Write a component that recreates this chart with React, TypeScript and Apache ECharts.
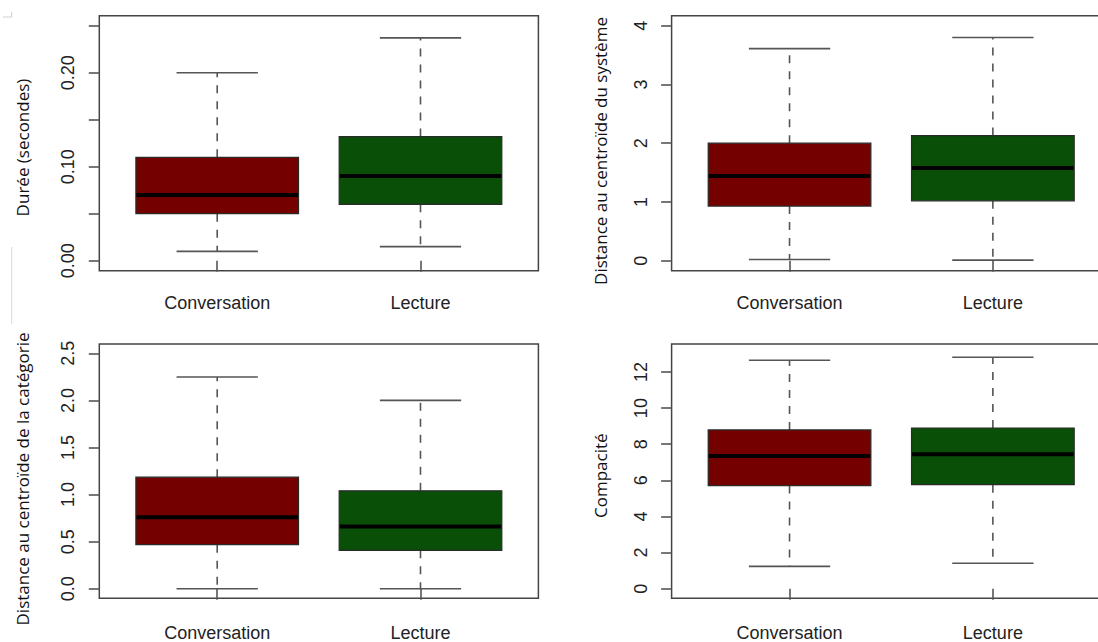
import React, { useEffect, useRef } from "react";
import * as echarts from "echarts";

// ---- data ----
const categories = ["Conversation", "Lecture"];
// [min, Q1, median, Q3, max]
const dureeConversation = [0.01, 0.05, 0.07, 0.11, 0.2];
const dureeLecture = [0.015, 0.06, 0.09, 0.132, 0.237];
const systemeConversation = [0.02, 0.93, 1.44, 2.0, 3.61];
const systemeLecture = [0.01, 1.02, 1.58, 2.13, 3.8];
const categorieConversation = [0.0, 0.468, 0.76, 1.185, 2.249];
const categorieLecture = [0.0, 0.408, 0.66, 1.04, 2.0];
const compaciteConversation = [1.24, 5.71, 7.35, 8.79, 12.65];
const compaciteLecture = [1.41, 5.76, 7.45, 8.9, 12.82];

const dureeTicks = [0, 0.05, 0.1, 0.15, 0.2, 0.25];
const dureeLabels = [0, 0.1, 0.2];
const systemeTicks = [0, 1, 2, 3, 4];
const categorieTicks = [0, 0.5, 1, 1.5, 2, 2.5];
const compaciteTicks = [0, 2, 4, 6, 8, 10, 12];

const titles = [
  "Durée (secondes)",
  "Distance au centroïde du système",
  "Distance au centroïde de la catégorie",
  "Compacité",
];

const fills = ["#740000", "#0a4f07"];

const panels = [
  {
    conv: dureeConversation, lec: dureeLecture, ticks: dureeTicks, labels: dureeLabels,
    digits: 2, min: -0.0106, max: 0.2606,
    grid: { left: 99.3, top: 15.7, width: 439.1, height: 255 }, xMargin: 23,
    title: { x: 22, y: 147.5 },
  },
  {
    conv: systemeConversation, lec: systemeLecture, ticks: systemeTicks, labels: systemeTicks,
    digits: 0, min: -0.17, max: 4.17,
    grid: { left: 671.6, top: 15.7, width: 439.2, height: 255 }, xMargin: 23,
    title: { x: 600, y: 151 },
  },
  {
    conv: categorieConversation, lec: categorieLecture, ticks: categorieTicks, labels: categorieTicks,
    digits: 1, min: -0.102, max: 2.599,
    grid: { left: 99.3, top: 344, width: 439.1, height: 254.3 }, xMargin: 26,
    title: { x: 22, y: 479 },
  },
  {
    conv: compaciteConversation, lec: compaciteLecture, ticks: compaciteTicks, labels: compaciteTicks,
    digits: 0, min: -0.53, max: 13.55,
    grid: { left: 671.6, top: 344, width: 439.2, height: 254.3 }, xMargin: 26,
    title: { x: 600, y: 475.7 },
  },
];

function renderBox(params: any, api: any) {
  const x = api.value(0);
  const lo = api.coord([x, api.value(1)]);
  const q1 = api.coord([x, api.value(2)]);
  const med = api.coord([x, api.value(3)]);
  const q3 = api.coord([x, api.value(4)]);
  const hi = api.coord([x, api.value(5)]);
  const unit = api.size([1, 0])[0];
  const cx = lo[0];
  const hb = unit * 0.4;
  const hc = unit * 0.2;
  const whisker = { stroke: "#555", lineWidth: 1.6, lineDash: [8, 8] };
  const cap = { stroke: "#555", lineWidth: 1.6 };
  return {
    type: "group",
    children: [
      { type: "line", shape: { x1: cx, y1: q1[1], x2: cx, y2: lo[1] }, style: whisker },
      { type: "line", shape: { x1: cx, y1: q3[1], x2: cx, y2: hi[1] }, style: whisker },
      { type: "line", shape: { x1: cx - hc, y1: lo[1], x2: cx + hc, y2: lo[1] }, style: cap },
      { type: "line", shape: { x1: cx - hc, y1: hi[1], x2: cx + hc, y2: hi[1] }, style: cap },
      {
        type: "rect",
        shape: { x: cx - hb, y: q3[1], width: 2 * hb, height: q1[1] - q3[1] },
        style: { fill: fills[x - 1], stroke: "#2a2a2a", lineWidth: 1.2 },
      },
      {
        type: "line",
        shape: { x1: cx - hb + 0.6, y1: med[1], x2: cx + hb - 0.6, y2: med[1] },
        style: { stroke: "#000", lineWidth: 4 },
      },
    ],
  };
}

export default function App() {
  const ref = useRef<HTMLDivElement>(null);
  useEffect(() => {
    if (!ref.current) return;
    const chart = echarts.init(ref.current, null, { renderer: "svg" });
    const labelFont = "'Liberation Sans', Arial, sans-serif";
    const option: any = {
      animation: false,
      backgroundColor: "#ffffff",
      grid: panels.map((p) => ({
        ...p.grid,
        show: true,
        borderColor: "#444",
        borderWidth: 1.5,
        backgroundColor: "transparent",
        containLabel: false,
        outerBoundsMode: "none",
      })),
      xAxis: panels.map((p, i) => ({
        type: "value",
        gridIndex: i,
        min: 0.42,
        max: 2.58,
        splitLine: { show: false },
        axisLine: { show: false },
        axisTick: {
          show: true,
          customValues: [1, 2],
          length: 11,
          lineStyle: { color: "#555", width: 1.6 },
        },
        axisLabel: {
          show: true,
          customValues: [1, 2],
          margin: p.xMargin,
          fontSize: 18,
          fontFamily: labelFont,
          color: "#222",
          formatter: (v: number) => categories[Math.round(v) - 1] ?? "",
        },
      })),
      yAxis: panels.map((p, i) => ({
        type: "value",
        gridIndex: i,
        min: p.min,
        max: p.max,
        splitLine: { show: false },
        axisLine: { show: false },
        axisTick: {
          show: true,
          customValues: p.ticks,
          length: 10.5,
          lineStyle: { color: "#555", width: 1.6 },
        },
        axisLabel: {
          show: true,
          customValues: p.labels,
          rotate: 90,
          margin: 22,
          fontSize: 18,
          fontFamily: labelFont,
          color: "#222",
          formatter: (v: number) => v.toFixed(p.digits),
        },
      })),
      series: panels.map((p, i) => ({
        type: "custom",
        xAxisIndex: i,
        yAxisIndex: i,
        renderItem: renderBox,
        encode: { x: 0, y: [1, 2, 3, 4, 5] },
        data: [
          [1, ...p.conv],
          [2, ...p.lec],
        ],
      })),
      graphic: [
        ...panels.map((p, i) => ({
          type: "text",
          x: p.title.x,
          y: p.title.y,
          rotation: Math.PI / 2,
          style: {
            text: titles[i],
            fontFamily: "'Open Sans', sans-serif",
            fontSize: 17,
            fill: "#111",
            align: "center",
            verticalAlign: "middle",
          },
        })),
        { type: "polyline", shape: { points: [[3, 17], [11.7, 17], [11.7, 11.7]] }, style: { stroke: "#cfcfcf", lineWidth: 1, fill: null } },
        { type: "line", shape: { x1: 11.7, y1: 247, x2: 11.7, y2: 324 }, style: { stroke: "#d8d8d8", lineWidth: 1 } },
      ],
    };
    chart.setOption(option);
    return () => chart.dispose();
  }, []);
  return (
    <div
      ref={ref}
      style={{ position: "absolute", left: 0, top: 0, width: 1098, height: 642, background: "#fff" }}
    />
  );
}
